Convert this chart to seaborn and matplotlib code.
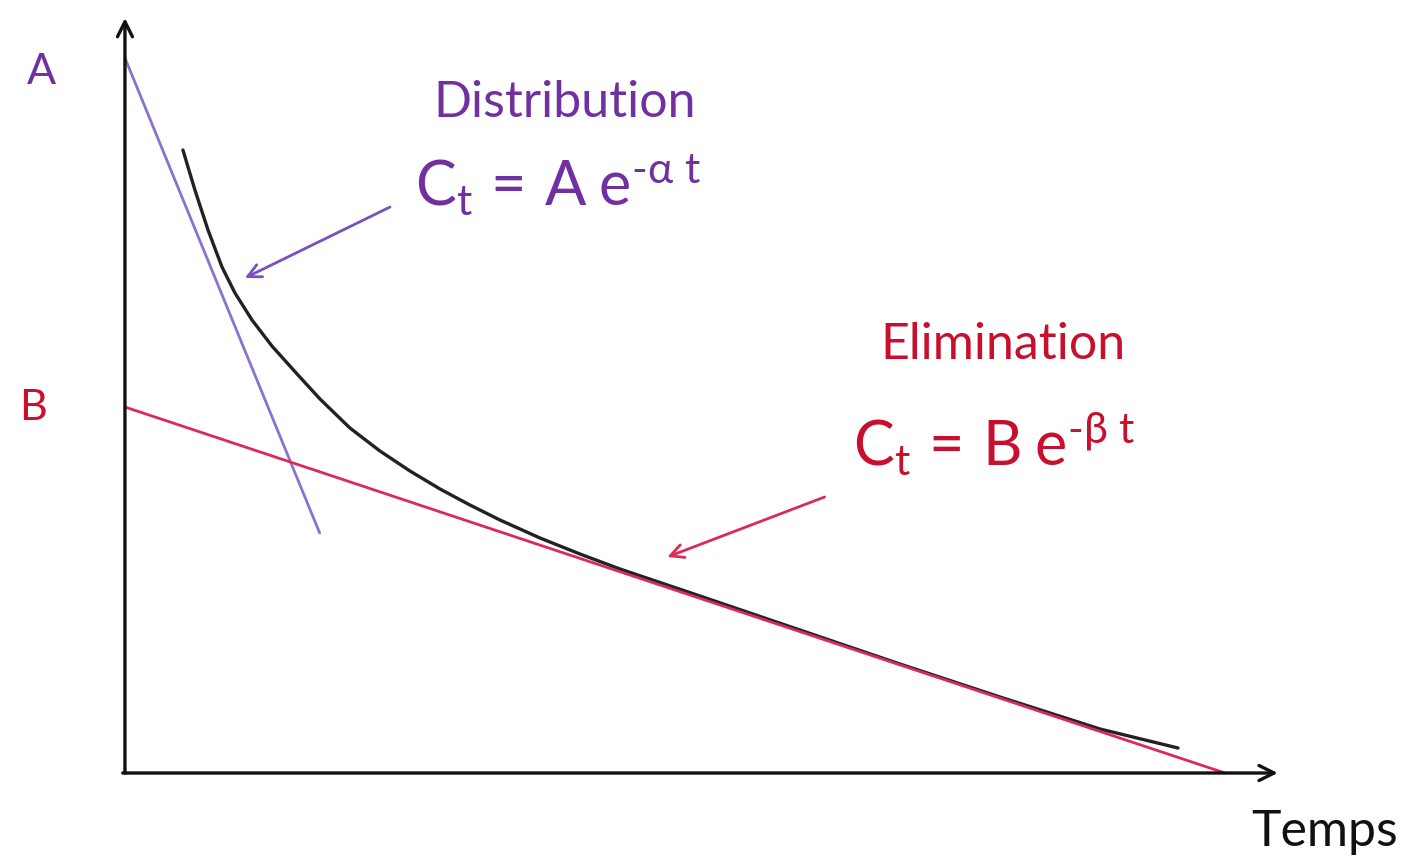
import matplotlib
matplotlib.use("Agg")
import matplotlib.pyplot as plt
import seaborn as sns
import pandas as pd

# ---- data (time units, concentration units) ----
curve_t = [0.527, 0.636, 0.755, 0.882, 1.000, 1.155, 1.336, 1.573, 1.773, 2.045, 2.318,
           2.591, 2.864, 3.136, 3.409, 3.773, 4.136, 4.500, 5.227, 6.136, 7.045, 7.955,
           8.864, 9.573]
curve_c = [6.23, 5.83, 5.43, 5.06, 4.80, 4.53, 4.27, 3.98, 3.74, 3.45, 3.22,
           3.02, 2.84, 2.68, 2.53, 2.35, 2.19, 2.04, 1.77, 1.43, 1.09, 0.76,
           0.44, 0.25]
distrib_t = [0.0, 1.77]
distrib_c = [7.15, 2.40]
elim_t = [0.0, 10.0]
elim_c = [3.66, 0.0]

labels = {"A": "A", "B": "B", "dist": "Distribution", "elim": "Elimination", "x": "Temps"}

PURPLE_TXT = "#7030A0"
PURPLE_LN = "#8C72CC"
RED_TXT = "#C8102E"
RED_LN = "#DB2A55"

sns.set_theme(style="white")
plt.rcParams["font.family"] = ["Lato", "DejaVu Sans"]
plt.rcParams["mathtext.fontset"] = "custom"
plt.rcParams["mathtext.rm"] = "Lato"
plt.rcParams["mathtext.it"] = "Lato:italic"
plt.rcParams["mathtext.fallback"] = "stixsans"

fig = plt.figure(figsize=(14.07, 8.61), dpi=100)
ax = fig.add_axes([0, 0, 1, 1])
ax.set_xlim(-1.136, 11.655)
ax.set_ylim(-0.88, 7.73)
ax.axis("off")

df_curve = pd.DataFrame({"t": curve_t, "c": curve_c})
df_dist = pd.DataFrame({"t": distrib_t, "c": distrib_c})
df_elim = pd.DataFrame({"t": elim_t, "c": elim_c})

sns.lineplot(data=df_dist, x="t", y="c", ax=ax, color=PURPLE_LN, lw=2.0, sort=False)
sns.lineplot(data=df_curve, x="t", y="c", ax=ax, color="#222222", lw=2.4, sort=False,
             solid_joinstyle="round")
sns.lineplot(data=df_elim, x="t", y="c", ax=ax, color=RED_LN, lw=2.0, sort=False)

# axes with arrows
arrow_kw = dict(arrowstyle="->,head_length=0.9,head_width=0.45", color="#111111", lw=2.4,
                shrinkA=0, shrinkB=0)
ax.annotate("", xy=(0, 7.55), xytext=(0, 0), arrowprops=arrow_kw)
ax.annotate("", xy=(10.48, 0), xytext=(-0.02, 0), arrowprops=arrow_kw)

# text labels
ax.text(-0.755, 7.01, labels["A"], color=PURPLE_TXT, fontsize=31, ha="center", va="center")
ax.text(-0.836, 3.65, labels["B"], color=RED_TXT, fontsize=31, ha="center", va="center")
ax.text(4.0, 6.70, labels["dist"], color=PURPLE_TXT, fontsize=36, ha="center", va="center")
ax.text(2.64, 5.68, r"$\mathrm{C_t\,=\,A\;e^{\text{-}\alpha\ t}}$", color=PURPLE_TXT,
        fontsize=44, ha="left", va="baseline")
ax.text(7.98, 4.28, labels["elim"], color=RED_TXT, fontsize=36, ha="center", va="center")
ax.text(6.62, 3.08, r"$\mathrm{C_t\,=\,B\;e^{\text{-}\beta\ t}}$", color=RED_TXT,
        fontsize=44, ha="left", va="baseline")
ax.text(10.91, -0.59, labels["x"], color="#111111", fontsize=36, ha="center", va="center")

# pointer arrows
ax.annotate("", xy=(1.09, 4.95), xytext=(2.41, 5.66),
            arrowprops=dict(arrowstyle="->,head_length=0.8,head_width=0.4", color="#7A4FBF",
                            lw=2.0, shrinkA=0, shrinkB=0))
ax.annotate("", xy=(4.93, 2.16), xytext=(6.36, 2.76),
            arrowprops=dict(arrowstyle="->,head_length=0.8,head_width=0.4", color=RED_LN,
                            lw=2.0, shrinkA=0, shrinkB=0))

fig.savefig("out.png", dpi=100, facecolor="white")
